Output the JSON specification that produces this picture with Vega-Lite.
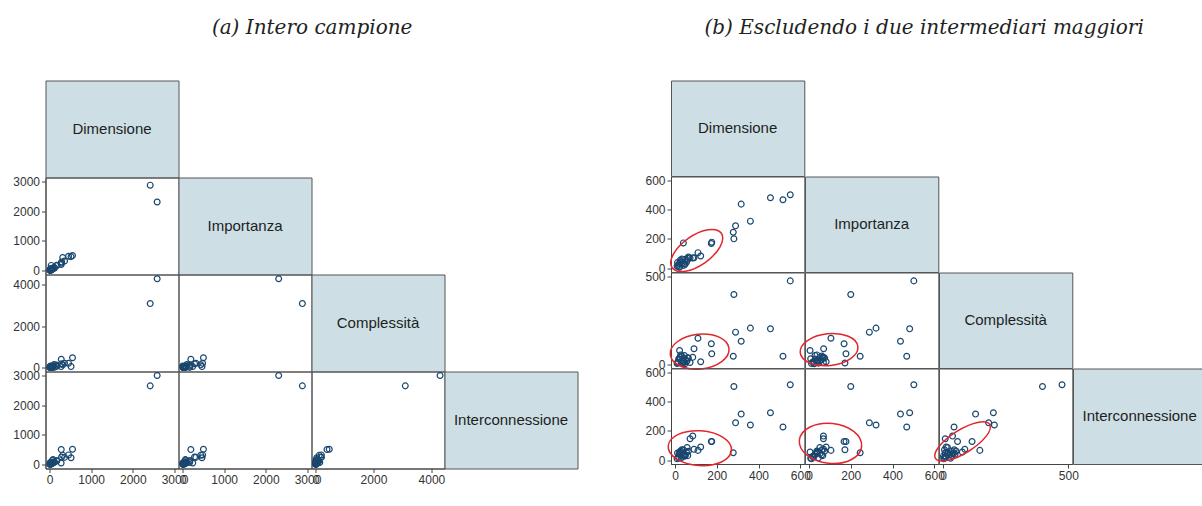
{
  "$schema": "https://vega.github.io/schema/vega-lite/v6.json",
  "autosize": {"type": "pad"},
  "padding": {"left": 11.5, "top": 17.5, "right": 0, "bottom": 0},
  "background": "white",
  "datasets": {
    "pts": [
      {"Dimensione": 2417, "Importanza": 2877, "Complessita": 3098, "Interconnessione": 2653},
      {"Dimensione": 2584, "Importanza": 2308, "Complessita": 4298, "Interconnessione": 3003},
      {"Dimensione": 552, "Importanza": 502, "Complessita": 475, "Interconnessione": 516},
      {"Dimensione": 517, "Importanza": 468, "Complessita": 44, "Interconnessione": 226},
      {"Dimensione": 457, "Importanza": 482, "Complessita": 201, "Interconnessione": 324},
      {"Dimensione": 361, "Importanza": 321, "Complessita": 205, "Interconnessione": 240},
      {"Dimensione": 317, "Importanza": 438, "Complessita": 130, "Interconnessione": 315},
      {"Dimensione": 290, "Importanza": 289, "Complessita": 182, "Interconnessione": 255},
      {"Dimensione": 282, "Importanza": 200, "Complessita": 397, "Interconnessione": 504},
      {"Dimensione": 279, "Importanza": 245, "Complessita": 44, "Interconnessione": 50},
      {"Dimensione": 174, "Importanza": 168, "Complessita": 116, "Interconnessione": 127},
      {"Dimensione": 176, "Importanza": 177, "Complessita": 58, "Interconnessione": 127},
      {"Dimensione": 40, "Importanza": 172, "Complessita": 6, "Interconnessione": 70},
      {"Dimensione": 123, "Importanza": 82, "Complessita": 13, "Interconnessione": 89},
      {"Dimensione": 110, "Importanza": 105, "Complessita": 147, "Interconnessione": 66},
      {"Dimensione": 91, "Importanza": 70, "Complessita": 87, "Interconnessione": 73},
      {"Dimensione": 85, "Importanza": 69, "Complessita": 38, "Interconnessione": 164},
      {"Dimensione": 72, "Importanza": 69, "Complessita": 9, "Interconnessione": 146},
      {"Dimensione": 64, "Importanza": 75, "Complessita": 34, "Interconnessione": 60},
      {"Dimensione": 22, "Importanza": 5, "Complessita": 77, "Interconnessione": 55},
      {"Dimensione": 45, "Importanza": 29, "Complessita": 48, "Interconnessione": 40},
      {"Dimensione": 25, "Importanza": 53, "Complessita": 39, "Interconnessione": 45},
      {"Dimensione": 61, "Importanza": 66, "Complessita": 36, "Interconnessione": 30},
      {"Dimensione": 35, "Importanza": 35, "Complessita": 20, "Interconnessione": 50},
      {"Dimensione": 15, "Importanza": 20, "Complessita": 10, "Interconnessione": 20},
      {"Dimensione": 50, "Importanza": 60, "Complessita": 25, "Interconnessione": 35},
      {"Dimensione": 30, "Importanza": 45, "Complessita": 5, "Interconnessione": 15},
      {"Dimensione": 10, "Importanza": 12, "Complessita": 3, "Interconnessione": 8},
      {"Dimensione": 55, "Importanza": 40, "Complessita": 15, "Interconnessione": 55},
      {"Dimensione": 20, "Importanza": 30, "Complessita": 28, "Interconnessione": 40},
      {"Dimensione": 42, "Importanza": 18, "Complessita": 12, "Interconnessione": 25},
      {"Dimensione": 12, "Importanza": 38, "Complessita": 8, "Interconnessione": 48},
      {"Dimensione": 33, "Importanza": 62, "Complessita": 45, "Interconnessione": 70},
      {"Dimensione": 48, "Importanza": 25, "Complessita": 2, "Interconnessione": 28},
      {"Dimensione": 18, "Importanza": 8, "Complessita": 30, "Interconnessione": 12},
      {"Dimensione": 58, "Importanza": 52, "Complessita": 18, "Interconnessione": 85},
      {"Dimensione": 27, "Importanza": 38, "Complessita": 52, "Interconnessione": 62}
    ],
    "ell": [
      {"cell": "DI", "Dimensione": 104, "Importanza": 120},
      {"cell": "DC", "Dimensione": 118, "Complessita": 71},
      {"cell": "DX", "Dimensione": 119, "Interconnessione": 81},
      {"cell": "IC", "Importanza": 96, "Complessita": 82},
      {"cell": "IX", "Importanza": 103, "Interconnessione": 114},
      {"cell": "CX", "Complessita": 78, "Interconnessione": 127}
    ]
  },
  "config": {
    "view": {"stroke": null},
    "point": {"filled": false, "size": 34, "strokeWidth": 1.2, "color": "#1a476f", "opacity": 1},
    "axis": {"labelFont": "Liberation Sans", "labelFontSize": 12, "labelColor": "#333333", "tickColor": "#444444", "domainColor": "#444444", "tickSize": 4, "labelPadding": 2, "grid": false, "title": null, "labelFlush": false, "labelOverlap": false, "labelBound": false, "domainWidth": 1, "tickWidth": 1, "format": "d"},
    "title": {"font": "DejaVu Serif", "fontStyle": "italic", "fontWeight": "normal", "fontSize": 20, "color": "#222222", "anchor": "middle"}
  },
  "hconcat": [
    {
      "title": {"text": "(a) Intero campione", "offset": 42, "dx": 17},
      "columns": 4,
      "spacing": 0,
      "bounds": "flush",
      "concat": [
        {"width": 133, "height": 97, "view": {"fill": "#cddfe5", "stroke": "#555555"}, "data": {"values": [{"label": "Dimensione"}]}, "mark": {"type": "text", "font": "Liberation Sans", "fontSize": 15, "color": "#1e1e1e"}, "encoding": {"text": {"field": "label"}}},
        {"width": 133, "height": 97, "data": {"values": []}, "mark": "point"},
        {"width": 133, "height": 97, "data": {"values": []}, "mark": "point"},
        {"width": 133, "height": 97, "data": {"values": []}, "mark": "point"},

        {"width": 133, "height": 97, "view": {"stroke": "#555555"}, "data": {"name": "pts"}, "mark": "point",
         "encoding": {
           "x": {"field": "Dimensione", "type": "quantitative", "scale": {"domain": [0, 3000], "nice": false, "zero": false, "padding": 4}, "axis": null},
           "y": {"field": "Importanza", "type": "quantitative", "scale": {"domain": [0, 3000], "nice": false, "zero": false, "padding": 4}, "axis": {"values": [0, 1000, 2000, 3000]}}}},
        {"width": 133, "height": 97, "view": {"fill": "#cddfe5", "stroke": "#555555"}, "data": {"values": [{"label": "Importanza"}]}, "mark": {"type": "text", "font": "Liberation Sans", "fontSize": 15, "color": "#1e1e1e"}, "encoding": {"text": {"field": "label"}}},
        {"width": 133, "height": 97, "data": {"values": []}, "mark": "point"},
        {"width": 133, "height": 97, "data": {"values": []}, "mark": "point"},

        {"width": 133, "height": 97, "view": {"stroke": "#555555"}, "data": {"name": "pts"}, "mark": "point",
         "encoding": {
           "x": {"field": "Dimensione", "type": "quantitative", "scale": {"domain": [0, 3000], "nice": false, "zero": false, "padding": 4}, "axis": null},
           "y": {"field": "Complessita", "type": "quantitative", "scale": {"domain": [0, 4313], "nice": false, "zero": false, "padding": 4}, "axis": {"values": [0, 2000, 4000]}}}},
        {"width": 133, "height": 97, "view": {"stroke": "#555555"}, "data": {"name": "pts"}, "mark": "point",
         "encoding": {
           "x": {"field": "Importanza", "type": "quantitative", "scale": {"domain": [0, 3000], "nice": false, "zero": false, "padding": 4}, "axis": null},
           "y": {"field": "Complessita", "type": "quantitative", "scale": {"domain": [0, 4313], "nice": false, "zero": false, "padding": 4}, "axis": null}}},
        {"width": 133, "height": 97, "view": {"fill": "#cddfe5", "stroke": "#555555"}, "data": {"values": [{"label": "Complessità"}]}, "mark": {"type": "text", "font": "Liberation Sans", "fontSize": 15, "color": "#1e1e1e"}, "encoding": {"text": {"field": "label"}}},
        {"width": 133, "height": 97, "data": {"values": []}, "mark": "point"},

        {"width": 133, "height": 97, "view": {"stroke": "#555555"}, "data": {"name": "pts"}, "mark": "point",
         "encoding": {
           "x": {"field": "Dimensione", "type": "quantitative", "scale": {"domain": [0, 3000], "nice": false, "zero": false, "padding": 4}, "axis": {"values": [0, 1000, 2000, 3000]}},
           "y": {"field": "Interconnessione", "type": "quantitative", "scale": {"domain": [0, 3003], "nice": false, "zero": false, "padding": 4}, "axis": {"values": [0, 1000, 2000, 3000]}}}},
        {"width": 133, "height": 97, "view": {"stroke": "#555555"}, "data": {"name": "pts"}, "mark": "point",
         "encoding": {
           "x": {"field": "Importanza", "type": "quantitative", "scale": {"domain": [0, 3000], "nice": false, "zero": false, "padding": 4}, "axis": {"values": [0, 1000, 2000, 3000]}},
           "y": {"field": "Interconnessione", "type": "quantitative", "scale": {"domain": [0, 3003], "nice": false, "zero": false, "padding": 4}, "axis": null}}},
        {"width": 133, "height": 97, "view": {"stroke": "#555555"}, "data": {"name": "pts"}, "mark": "point",
         "encoding": {
           "x": {"field": "Complessita", "type": "quantitative", "scale": {"domain": [0, 4313], "nice": false, "zero": false, "padding": 4}, "axis": {"values": [0, 2000, 4000]}},
           "y": {"field": "Interconnessione", "type": "quantitative", "scale": {"domain": [0, 3003], "nice": false, "zero": false, "padding": 4}, "axis": null}}},
        {"width": 133, "height": 97, "view": {"fill": "#cddfe5", "stroke": "#555555"}, "data": {"values": [{"label": "Interconnessione"}]}, "mark": {"type": "text", "font": "Liberation Sans", "fontSize": 15, "color": "#1e1e1e"}, "encoding": {"text": {"field": "label"}}}
      ]
    },
    {
      "title": {"text": "(b) Escludendo i due intermediari maggiori", "offset": 42, "dx": -1.5},
      "columns": 4,
      "spacing": 0,
      "bounds": "flush",
      "concat": [
        {"width": 133.3, "height": 95.5, "view": {"fill": "#cddfe5", "stroke": "#555555"}, "data": {"values": [{"label": "Dimensione"}]}, "mark": {"type": "text", "font": "Liberation Sans", "fontSize": 15, "color": "#1e1e1e"}, "encoding": {"text": {"field": "label"}}},
        {"width": 133.3, "height": 95.5, "data": {"values": []}, "mark": "point"},
        {"width": 133.3, "height": 95.5, "data": {"values": []}, "mark": "point"},
        {"width": 133.3, "height": 95.5, "data": {"values": []}, "mark": "point"},

        {"width": 133.3, "height": 95.5, "view": {"stroke": "#555555"},
         "encoding": {
           "x": {"field": "Dimensione", "type": "quantitative", "scale": {"domain": [0, 600], "nice": false, "zero": false, "padding": 4}, "axis": null},
           "y": {"field": "Importanza", "type": "quantitative", "scale": {"domain": [0, 600], "nice": false, "zero": false, "padding": 4}, "axis": {"values": [0, 200, 400, 600]}}},
         "layer": [
           {"data": {"name": "pts"}, "transform": [{"filter": "datum.Dimensione < 1000"}], "mark": "point"},
           {"data": {"name": "ell"}, "transform": [{"filter": "datum.cell === 'DI'"}],
            "mark": {"type": "point", "shape": "M -1 0 C -1 -0.27 -0.552 -0.49 0 -0.49 C 0.552 -0.49 1 -0.27 1 0 C 1 0.27 0.552 0.49 0 0.49 C -0.552 0.49 -1 0.27 -1 0 Z", "size": 3600, "angle": 325, "filled": false, "color": "#e3262b", "strokeWidth": 1.5}}
         ]},
        {"width": 133.3, "height": 95.5, "view": {"fill": "#cddfe5", "stroke": "#555555"}, "data": {"values": [{"label": "Importanza"}]}, "mark": {"type": "text", "font": "Liberation Sans", "fontSize": 15, "color": "#1e1e1e"}, "encoding": {"text": {"field": "label"}}},
        {"width": 133.3, "height": 95.5, "data": {"values": []}, "mark": "point"},
        {"width": 133.3, "height": 95.5, "data": {"values": []}, "mark": "point"},

        {"width": 133.3, "height": 95.5, "view": {"stroke": "#555555"},
         "encoding": {
           "x": {"field": "Dimensione", "type": "quantitative", "scale": {"domain": [0, 600], "nice": false, "zero": false, "padding": 4}, "axis": null},
           "y": {"field": "Complessita", "type": "quantitative", "scale": {"domain": [0, 500], "nice": false, "zero": false, "padding": 4}, "axis": {"values": [0, 500]}}},
         "layer": [
           {"data": {"name": "pts"}, "transform": [{"filter": "datum.Dimensione < 1000"}], "mark": "point"},
           {"data": {"name": "ell"}, "transform": [{"filter": "datum.cell === 'DC'"}],
            "mark": {"type": "point", "shape": "M -1 0 C -1 -0.326 -0.552 -0.59 0 -0.59 C 0.552 -0.59 1 -0.326 1 0 C 1 0.326 0.552 0.59 0 0.59 C -0.552 0.59 -1 0.326 -1 0 Z", "size": 3481, "angle": 354, "filled": false, "color": "#e3262b", "strokeWidth": 1.5}}
         ]},
        {"width": 133.3, "height": 95.5, "view": {"stroke": "#555555"},
         "encoding": {
           "x": {"field": "Importanza", "type": "quantitative", "scale": {"domain": [0, 600], "nice": false, "zero": false, "padding": 4}, "axis": null},
           "y": {"field": "Complessita", "type": "quantitative", "scale": {"domain": [0, 500], "nice": false, "zero": false, "padding": 4}, "axis": null}},
         "layer": [
           {"data": {"name": "pts"}, "transform": [{"filter": "datum.Dimensione < 1000"}], "mark": "point"},
           {"data": {"name": "ell"}, "transform": [{"filter": "datum.cell === 'IC'"}],
            "mark": {"type": "point", "shape": "M -1 0 C -1 -0.304 -0.552 -0.55 0 -0.55 C 0.552 -0.55 1 -0.304 1 0 C 1 0.304 0.552 0.55 0 0.55 C -0.552 0.55 -1 0.304 -1 0 Z", "size": 3364, "angle": 354, "filled": false, "color": "#e3262b", "strokeWidth": 1.5}}
         ]},
        {"width": 133.3, "height": 95.5, "view": {"fill": "#cddfe5", "stroke": "#555555"}, "data": {"values": [{"label": "Complessità"}]}, "mark": {"type": "text", "font": "Liberation Sans", "fontSize": 15, "color": "#1e1e1e"}, "encoding": {"text": {"field": "label"}}},
        {"width": 133.3, "height": 95.5, "data": {"values": []}, "mark": "point"},

        {"width": 133.3, "height": 95.5, "view": {"stroke": "#555555"},
         "encoding": {
           "x": {"field": "Dimensione", "type": "quantitative", "scale": {"domain": [0, 600], "nice": false, "zero": false, "padding": 4}, "axis": {"values": [0, 200, 400, 600]}},
           "y": {"field": "Interconnessione", "type": "quantitative", "scale": {"domain": [0, 600], "nice": false, "zero": false, "padding": 4}, "axis": {"values": [0, 200, 400, 600]}}},
         "layer": [
           {"data": {"name": "pts"}, "transform": [{"filter": "datum.Dimensione < 1000"}], "mark": "point"},
           {"data": {"name": "ell"}, "transform": [{"filter": "datum.cell === 'DX'"}],
            "mark": {"type": "point", "shape": "M -1 0 C -1 -0.304 -0.552 -0.55 0 -0.55 C 0.552 -0.55 1 -0.304 1 0 C 1 0.304 0.552 0.55 0 0.55 C -0.552 0.55 -1 0.304 -1 0 Z", "size": 4020, "angle": 4, "filled": false, "color": "#e3262b", "strokeWidth": 1.5}}
         ]},
        {"width": 133.3, "height": 95.5, "view": {"stroke": "#555555"},
         "encoding": {
           "x": {"field": "Importanza", "type": "quantitative", "scale": {"domain": [0, 600], "nice": false, "zero": false, "padding": 4}, "axis": {"values": [0, 200, 400, 600]}},
           "y": {"field": "Interconnessione", "type": "quantitative", "scale": {"domain": [0, 600], "nice": false, "zero": false, "padding": 4}, "axis": null}},
         "layer": [
           {"data": {"name": "pts"}, "transform": [{"filter": "datum.Dimensione < 1000"}], "mark": "point"},
           {"data": {"name": "ell"}, "transform": [{"filter": "datum.cell === 'IX'"}],
            "mark": {"type": "point", "shape": "M -1 0 C -1 -0.353 -0.552 -0.64 0 -0.64 C 0.552 -0.64 1 -0.353 1 0 C 1 0.353 0.552 0.64 0 0.64 C -0.552 0.64 -1 0.353 -1 0 Z", "size": 3920, "angle": 6, "filled": false, "color": "#e3262b", "strokeWidth": 1.5}}
         ]},
        {"width": 133.3, "height": 95.5, "view": {"stroke": "#555555"},
         "encoding": {
           "x": {"field": "Complessita", "type": "quantitative", "scale": {"domain": [0, 500], "nice": false, "zero": false, "padding": 4}, "axis": {"values": [0, 500]}},
           "y": {"field": "Interconnessione", "type": "quantitative", "scale": {"domain": [0, 600], "nice": false, "zero": false, "padding": 4}, "axis": null}},
         "layer": [
           {"data": {"name": "pts"}, "transform": [{"filter": "datum.Dimensione < 1000"}], "mark": "point"},
           {"data": {"name": "ell"}, "transform": [{"filter": "datum.cell === 'CX'"}],
            "mark": {"type": "point", "shape": "M -1 0 C -1 -0.199 -0.552 -0.36 0 -0.36 C 0.552 -0.36 1 -0.199 1 0 C 1 0.199 0.552 0.36 0 0.36 C -0.552 0.36 -1 0.199 -1 0 Z", "size": 4096, "angle": 328, "filled": false, "color": "#e3262b", "strokeWidth": 1.5}}
         ]},
        {"width": 133.3, "height": 95.5, "view": {"fill": "#cddfe5", "stroke": "#555555"}, "data": {"values": [{"label": "Interconnessione"}]}, "mark": {"type": "text", "font": "Liberation Sans", "fontSize": 15, "color": "#1e1e1e"}, "encoding": {"text": {"field": "label"}}}
      ]
    }
  ],
  "spacing": 65.5
}
